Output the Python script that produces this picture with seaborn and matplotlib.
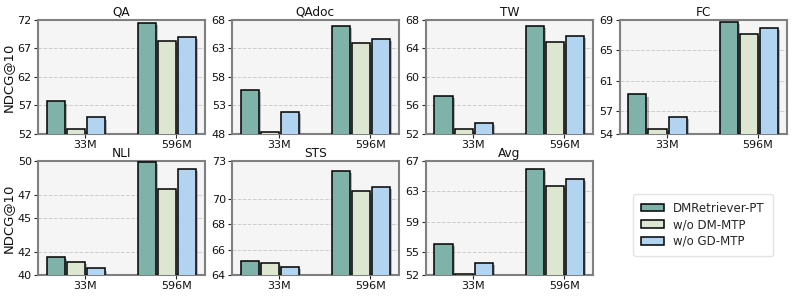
import numpy as np
import pandas as pd
import matplotlib
matplotlib.use("Agg")
import matplotlib.pyplot as plt
import matplotlib.patheffects as pe
import seaborn as sns

# values
sizes = ["33M", "596M"]
variants = ["DMRetriever-PT", "w/o DM-MTP", "w/o GD-MTP"]
tasks = ["QA", "QAdoc", "TW", "FC", "NLI", "STS", "Avg"]

qa = [[57.7, 71.4], [52.9, 68.3], [54.9, 69.1]]
qadoc = [[55.8, 67.0], [48.4, 63.9], [51.8, 64.6]]
tw = [[57.4, 67.2], [52.65, 64.9], [53.5, 65.8]]
fc = [[59.2, 68.7], [54.7, 67.2], [56.2, 67.9]]
nli = [[41.55, 49.9], [41.14, 47.57], [40.58, 49.27]]
sts = [[65.13, 72.2], [64.92, 70.6], [64.63, 70.95]]
avg = [[56.1, 66.0], [52.2, 63.7], [53.6, 64.6]]

ylims = [(52, 72), (48, 68), (52, 68), (54, 69), (40, 50), (64, 73), (52, 67)]
yticks = [[52, 57, 62, 67, 72], [48, 53, 58, 63, 68], [52, 56, 60, 64, 68],
          [54, 57, 61, 65, 69], [40, 42, 45, 47, 50], [64, 66, 68, 70, 73],
          [52, 55, 59, 63, 67]]

colors = ["#7fb3a9", "#dce6d0", "#b3d4f1"]

rows = []
for task, vals in zip(tasks, [qa, qadoc, tw, fc, nli, sts, avg]):
    for variant, series in zip(variants, vals):
        for size, v in zip(sizes, series):
            rows.append({"Task": task, "Variant": variant, "Size": size, "NDCG@10": v})
df = pd.DataFrame(rows)

sns.set_style("ticks")
plt.rcParams["font.family"] = ["DejaVu Sans"]

fig, axes = plt.subplots(2, 4, figsize=(7.93, 2.98), dpi=100)
fig.subplots_adjust(left=0.048, right=0.992, top=0.933, bottom=0.077,
                    wspace=0.162, hspace=0.237)
axes = axes.flatten()

shadow = [pe.SimplePatchShadow(offset=(1.5, -1.5), shadow_rgbFace="#666666", alpha=0.45),
          pe.Normal()]

for i, task in enumerate(tasks):
    ax = axes[i]
    sub = df[df["Task"] == task]
    sns.barplot(data=sub, x="Size", y="NDCG@10", hue="Variant", order=sizes,
                hue_order=variants, palette=colors, saturation=1, width=0.66, gap=0.1,
                edgecolor="black", linewidth=1.1, ax=ax, legend=False, zorder=3)
    for p in ax.patches:
        p.set_path_effects(shadow)
    ax.set_facecolor("#f5f5f5")
    ax.set_ylim(*ylims[i])
    ax.set_yticks(yticks[i])
    ax.set_xlim(-0.413, 1.413)
    ax.set_xticks([0.1, 1.1])
    ax.set_xticklabels(sizes)
    ax.tick_params(labelsize=8, length=3, width=0.8, pad=1.5, labelcolor="#111111")
    ax.grid(axis="y", linestyle="--", color="#cccccc", linewidth=0.7, zorder=0)
    ax.set_axisbelow(True)
    for s in ax.spines.values():
        s.set_color("#808080")
        s.set_linewidth(1.5)
    ax.set_title(task, fontsize=8.7, pad=3, color="#111111")
    ax.set_xlabel("")
    if i % 4 == 0:
        ax.set_ylabel("NDCG@10", fontsize=9.5, labelpad=2, color="#111111")
    else:
        ax.set_ylabel("")

axes[7].axis("off")
handles = [plt.Rectangle((0, 0), 1, 1, facecolor=c, edgecolor="black", linewidth=1.1)
           for c in colors]
axes[7].legend(handles, variants, loc="center", bbox_to_anchor=(0.5, 0.44),
               fontsize=8.5, frameon=True, handlelength=1.9, handleheight=0.6,
               labelspacing=0.3, borderpad=0.7, edgecolor="#dddddd", fancybox=True)

fig.savefig("out.png", dpi=100)
